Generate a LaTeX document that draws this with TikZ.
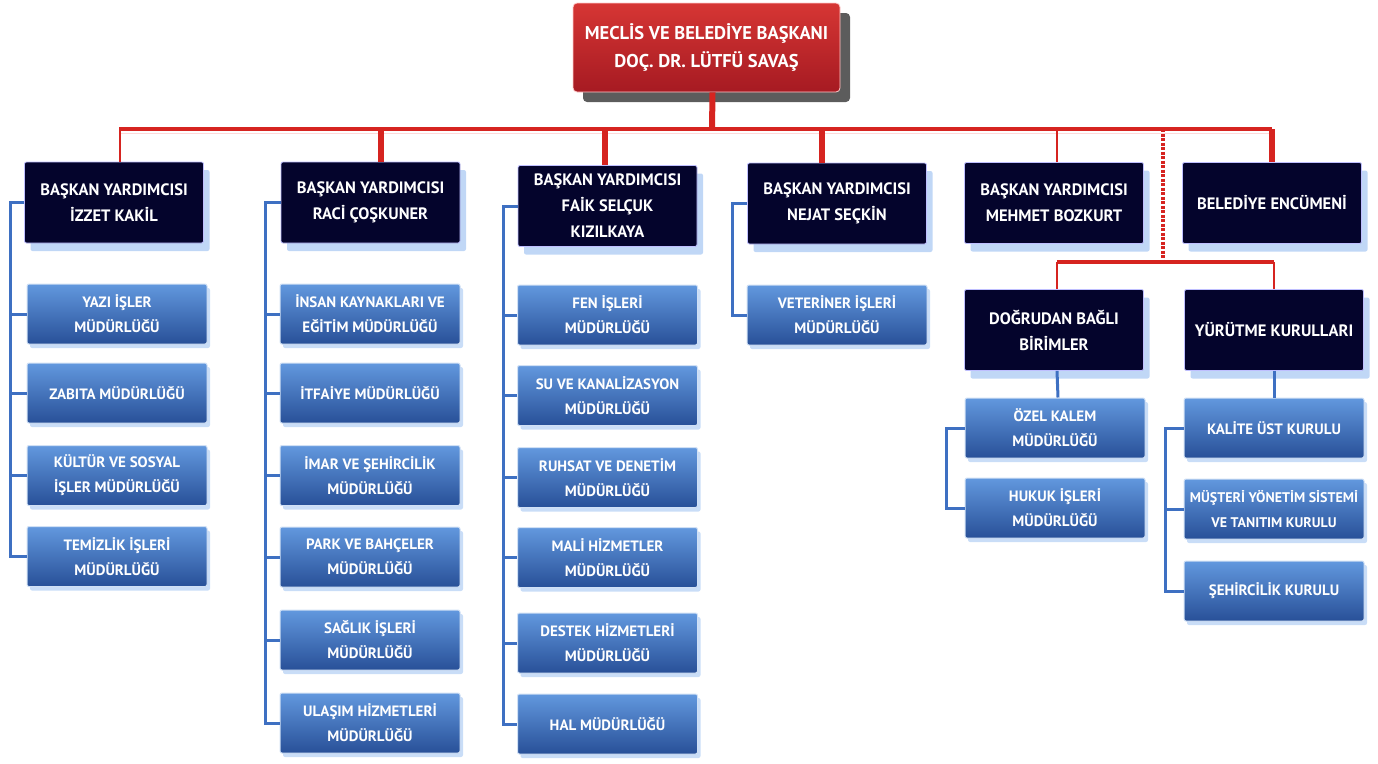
\documentclass[tikz,border=0pt]{standalone}
\usepackage{fontspec}
\setmainfont{PT Sans}
\usepackage{color}
\usepackage{tikz}
\usetikzlibrary{shadows,calc}

\definecolor{darknavy}{RGB}{4,4,44}
\definecolor{boxtop}{RGB}{98,152,222}
\definecolor{boxbot}{RGB}{40,80,152}
\definecolor{linered}{RGB}{214,36,32}
\definecolor{lineblue}{RGB}{62,112,194}
\definecolor{glow}{RGB}{165,198,242}
\definecolor{redtop}{RGB}{214,54,52}
\definecolor{redbot}{RGB}{166,26,34}

\begin{document}
\begin{tikzpicture}[x=1pt,y=-1pt]
    \tikzstyle{chief}=[rectangle, rounded corners=4pt, draw=white!80!red, line width=0.8pt,
      top color=redtop, bottom color=redbot, text=white, align=center,
      font=\bfseries\fontsize{18.5}{28}\selectfont, minimum width=267pt, minimum height=89pt,
      drop shadow={shadow xshift=10pt, shadow yshift=-10pt, fill=black!75, opacity=0.85}]
    \tikzstyle{deputy}=[rectangle, rounded corners=2pt, draw=white!75!blue, line width=0.8pt,
      fill=darknavy, text=white, align=center, inner sep=0pt,
      font=\bfseries\fontsize{16.5}{26}\selectfont, minimum width=179pt, minimum height=81pt,
      drop shadow={shadow xshift=6pt, shadow yshift=-8pt, fill=glow, opacity=0.7}]
    \tikzstyle{unit}=[rectangle, rounded corners=2pt, draw=white!70!boxtop, line width=1pt,
      top color=boxtop, bottom color=boxbot, text=white, align=center, inner sep=0pt,
      font=\bfseries\fontsize{15}{25}\selectfont, minimum width=180pt, minimum height=60pt,
      drop shadow={shadow xshift=3pt, shadow yshift=-4pt, fill=glow, opacity=0.6}]
    \tikzstyle{redline}=[draw=linered, line width=4pt]
    \tikzstyle{thinred}=[draw=linered, line width=2.5pt]
    \tikzstyle{thickred}=[draw=linered, line width=6pt]
    \tikzstyle{blueline}=[draw=lineblue, line width=3pt]

    \useasboundingbox (0,0) rectangle (1378,763);

    % mayor
    \node[chief] (m) at (706.5,47.5) {MECLİS VE BELEDİYE BAŞKANI\\DOÇ. DR. LÜTFÜ SAVAŞ};

    % deputies and council
    \node[deputy] (v1) at (114,202.5)   {BAŞKAN YARDIMCISI\\İZZET KAKİL};
    \node[deputy] (v2) at (370.5,202.5) {BAŞKAN YARDIMCISI\\RACİ ÇOŞKUNER};
    \node[deputy] (v3) at (607.5,206)   {BAŞKAN YARDIMCISI\\FAİK SELÇUK\\KIZILKAYA};
    \node[deputy] (v4) at (837,203.5)   {BAŞKAN YARDIMCISI\\NEJAT SEÇKİN};
    \node[deputy] (v5) at (1054,203)    {BAŞKAN YARDIMCISI\\MEHMET BOZKURT};
    \node[deputy] (v6) at (1272,203)    {BELEDİYE ENCÜMENİ};
    \node[deputy] (d1) at (1054,330)    {DOĞRUDAN BAĞLI\\BİRİMLER};
    \node[deputy] (d2) at (1274,330)    {YÜRÜTME KURULLARI};

    % units
    \node[unit] (u11) at (117,314)   {YAZI İŞLER\\MÜDÜRLÜĞÜ};
    \node[unit] (u12) at (117,393)   {ZABITA MÜDÜRLÜĞÜ};
    \node[unit] (u13) at (117,475.5) {KÜLTÜR VE SOSYAL\\İŞLER MÜDÜRLÜĞÜ};
    \node[unit] (u14) at (117,556.5) {TEMİZLİK İŞLERİ\\MÜDÜRLÜĞÜ};

    \node[unit] (u21) at (370,314)   {İNSAN KAYNAKLARI VE\\EĞİTİM MÜDÜRLÜĞÜ};
    \node[unit] (u22) at (370,393)   {İTFAİYE MÜDÜRLÜĞÜ};
    \node[unit] (u23) at (370,475.5) {İMAR VE ŞEHİRCİLİK\\MÜDÜRLÜĞÜ};
    \node[unit] (u24) at (370,557)   {PARK VE BAHÇELER\\MÜDÜRLÜĞÜ};
    \node[unit] (u25) at (370,640)   {SAĞLIK İŞLERİ\\MÜDÜRLÜĞÜ};
    \node[unit] (u26) at (370,723)   {ULAŞIM HİZMETLERİ\\MÜDÜRLÜĞÜ};

    \node[unit] (u31) at (607.5,315)   {FEN İŞLERİ\\MÜDÜRLÜĞÜ};
    \node[unit] (u32) at (607.5,395.5) {SU VE KANALİZASYON\\MÜDÜRLÜĞÜ};
    \node[unit] (u33) at (607.5,477.5) {RUHSAT VE DENETİM\\MÜDÜRLÜĞÜ};
    \node[unit] (u34) at (607.5,557.5) {MALİ HİZMETLER\\MÜDÜRLÜĞÜ};
    \node[unit] (u35) at (607.5,643)   {DESTEK HİZMETLERİ\\MÜDÜRLÜĞÜ};
    \node[unit] (u36) at (607.5,724)   {HAL MÜDÜRLÜĞÜ};

    \node[unit] (u41) at (837,315) {VETERİNER İŞLERİ\\MÜDÜRLÜĞÜ};

    \node[unit] (u51) at (1055,428) {ÖZEL KALEM\\MÜDÜRLÜĞÜ};
    \node[unit] (u52) at (1055,508) {HUKUK İŞLERİ\\MÜDÜRLÜĞÜ};

    \node[unit] (u61) at (1274,428) {KALİTE ÜST KURULU};
    \node[unit, font=\bfseries\fontsize{14}{25}\selectfont] (u62) at (1274,509) {MÜŞTERİ YÖNETİM SİSTEMİ\\VE TANITIM KURULU};
    \node[unit] (u63) at (1274,591) {ŞEHİRCİLİK KURULU};

    % red lines
    \coordinate (bus) at (712,129);
    \coordinate (bus2) at (1163,262);
    \draw[thickred] ([xshift=6pt]m.south) -- (bus);
    \draw[redline] (bus -| v1.north) ++(5,0) -- (bus -| v6.north);
    \draw[draw=white!85!red, line width=1pt] ([yshift=-4pt]bus -| v1.north) ++(5,0) -- ([yshift=-4pt]bus -| v6.north);
    \draw[thinred] ([xshift=6pt]bus -| v1.north) -- ([xshift=6pt]v1.north);
    \draw[thickred] ([xshift=10pt]bus -| v2.north) -- ([xshift=10pt]v2.north);
    \draw[thickred] ([xshift=-3pt]bus -| v3.north) -- ([xshift=-3pt]v3.north);
    \draw[thickred] ([xshift=-15pt]bus -| v4.north) -- ([xshift=-15pt]v4.north);
    \draw[thinred] ([xshift=3pt]bus -| v5.north) -- ([xshift=3pt]v5.north);
    \draw[thickred] (bus -| v6.north) -- (v6.north);
    \draw[linered, line width=3.5pt, dash pattern=on 3pt off 1.5pt] (bus -| bus2) -- (bus2);
    \draw[redline] ([xshift=3pt]bus2 -| d1.north) -- (bus2 -| d2.north);
    \draw[thinred] ([xshift=3pt]bus2 -| d1.north) -- ([xshift=3pt]d1.north);
    \draw[thinred] (bus2 -| d2.north) -- (d2.north);

    % blue lines
    \coordinate (s1) at (10,0);
    \coordinate (s2) at (265,0);
    \coordinate (s3) at (503,0);
    \coordinate (s4) at (732,0);
    \coordinate (s5) at (946,0);
    \coordinate (s6) at (1165,0);

    \draw[blueline] (v1.west) -- (s1 |- v1.west) -- (s1 |- u14.west) -- (u14.west);
    \draw[blueline] (u11.west) -- (s1 |- u11.west);
    \draw[blueline] (u12.west) -- (s1 |- u12.west);
    \draw[blueline] (u13.west) -- (s1 |- u13.west);

    \draw[blueline] (v2.west) -- (s2 |- v2.west) -- (s2 |- u26.west) -- (u26.west);
    \draw[blueline] (u21.west) -- (s2 |- u21.west);
    \draw[blueline] (u22.west) -- (s2 |- u22.west);
    \draw[blueline] (u23.west) -- (s2 |- u23.west);
    \draw[blueline] (u24.west) -- (s2 |- u24.west);
    \draw[blueline] (u25.west) -- (s2 |- u25.west);

    \draw[blueline] (v3.west) -- (s3 |- v3.west) -- (s3 |- u36.west) -- (u36.west);
    \draw[blueline] (u31.west) -- (s3 |- u31.west);
    \draw[blueline] (u32.west) -- (s3 |- u32.west);
    \draw[blueline] (u33.west) -- (s3 |- u33.west);
    \draw[blueline] (u34.west) -- (s3 |- u34.west);
    \draw[blueline] (u35.west) -- (s3 |- u35.west);

    \draw[blueline] (v4.west) -- (s4 |- v4.west) -- (s4 |- u41.west) -- (u41.west);

    \draw[blueline] ([xshift=3pt]d1.south) -- ([xshift=3pt]u51.north);
    \draw[blueline] (u51.west) -- (s5 |- u51.west) -- (s5 |- u52.west) -- (u52.west);

    \draw[blueline] (d2.south) -- (u61.north);
    \draw[blueline] (u61.west) -- (s6 |- u61.west) -- (s6 |- u63.west) -- (u63.west);
    \draw[blueline] (u62.west) -- (s6 |- u62.west);

\end{tikzpicture}
\end{document}
